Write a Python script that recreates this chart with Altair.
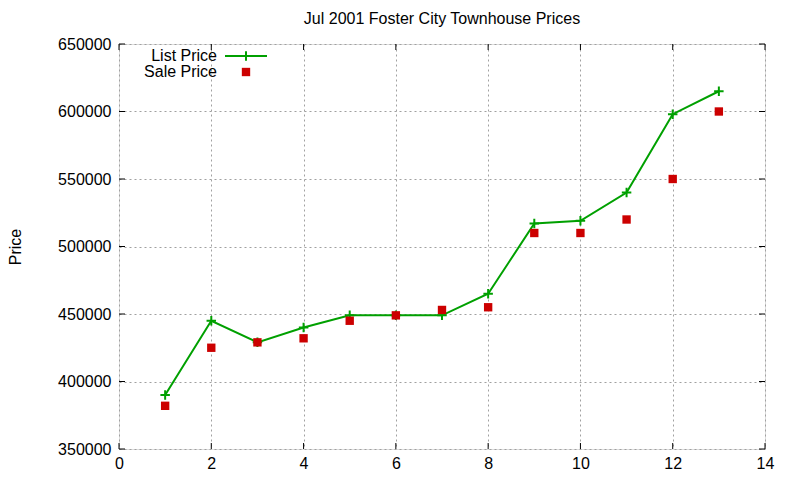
import altair as alt
import pandas as pd

# Data
house = list(range(1, 14))
list_price = [390000, 445000, 429000, 440000, 449000, 449000, 449000,
              465000, 517000, 519000, 540000, 598000, 615000]
sale_price = [382000, 425000, 429000, 432000, 445000, 449000, 453000,
              455000, 510000, 510000, 520000, 550000, 600000]
x_ticks = [0, 2, 4, 6, 8, 10, 12, 14]
y_ticks = [350000, 400000, 450000, 500000, 550000, 600000, 650000]

W, H = 646, 405
FONT = "Liberation Sans"
FS = 16
GREEN = "#00a000"
RED = "#cc0000"
PLUS = "M-1,0L1,0M0,-1L0,1"
TICK = 6

df = pd.DataFrame({"x": house, "list": list_price, "sale": sale_price})
dfx = pd.DataFrame({"t": x_ticks})
dfy = pd.DataFrame({"t": y_ticks})

xs = alt.Scale(domain=[0, 14], nice=False, zero=False)
ys = alt.Scale(domain=[350000, 650000], nice=False, zero=False)

xaxis = alt.Axis(values=x_ticks, grid=True, gridDash=[2, 3], gridColor="#a0a0a0",
                 ticks=False, domain=False, labelPadding=6, labelFontSize=FS,
                 labelFont=FONT, labelColor="#000", title=None, labelFlush=False)
yaxis = alt.Axis(values=y_ticks, grid=True, gridDash=[2, 3], gridColor="#a0a0a0",
                 ticks=False, domain=False, labelPadding=8, labelFontSize=FS,
                 labelFont=FONT, labelColor="#000", title="Price", titleFont=FONT,
                 titleFontSize=FS, titleFontWeight="normal", titleColor="#000",
                 titlePadding=34, format="d", labelFlush=False)

base = alt.Chart(df)
line = base.mark_line(color=GREEN, strokeWidth=2).encode(
    x=alt.X("x:Q", scale=xs, axis=xaxis),
    y=alt.Y("list:Q", scale=ys, axis=yaxis),
)
plus = base.mark_point(shape=PLUS, filled=False, color=GREEN, strokeWidth=2, size=90, opacity=1).encode(
    x=alt.X("x:Q", scale=xs), y=alt.Y("list:Q", scale=ys))
sq = base.mark_square(color=RED, size=70, opacity=1).encode(
    x=alt.X("x:Q", scale=xs), y=alt.Y("sale:Q", scale=ys))

# inward ticks
xt_b = alt.Chart(dfx).mark_rule(color="black", strokeWidth=1).encode(
    x=alt.X("t:Q", scale=xs), y=alt.value(H), y2=alt.value(H - TICK))
xt_t = alt.Chart(dfx).mark_rule(color="black", strokeWidth=1).encode(
    x=alt.X("t:Q", scale=xs), y=alt.value(0), y2=alt.value(TICK))
yt_l = alt.Chart(dfy).mark_rule(color="black", strokeWidth=1).encode(
    y=alt.Y("t:Q", scale=ys), x=alt.value(0), x2=alt.value(TICK))
yt_r = alt.Chart(dfy).mark_rule(color="black", strokeWidth=1).encode(
    y=alt.Y("t:Q", scale=ys), x=alt.value(W), x2=alt.value(W - TICK))

# legend
leg = pd.DataFrame({"label": ["List Price", "Sale Price"], "yy": [12, 28]})
leg_text = alt.Chart(leg).mark_text(align="right", baseline="middle", font=FONT,
                                    fontSize=FS, color="black").encode(
    text="label:N", x=alt.value(98), y=alt.Y("yy:Q", scale=None))
leg_line = alt.Chart(leg.iloc[:1]).mark_rule(color=GREEN, strokeWidth=2).encode(
    x=alt.value(106), x2=alt.value(148), y=alt.Y("yy:Q", scale=None))
leg_plus = alt.Chart(leg.iloc[:1]).mark_point(shape=PLUS, filled=False, color=GREEN,
                                              strokeWidth=2, size=90, opacity=1).encode(
    x=alt.value(127), y=alt.Y("yy:Q", scale=None))
leg_sq = alt.Chart(leg.iloc[1:]).mark_square(color=RED, size=70, opacity=1).encode(
    x=alt.value(127), y=alt.Y("yy:Q", scale=None))

chart = alt.layer(line, plus, sq, xt_b, xt_t, yt_l, yt_r,
                  leg_text, leg_line, leg_plus, leg_sq).properties(
    width=W, height=H,
    title=alt.Title("Jul 2001 Foster City Townhouse Prices", font=FONT, fontSize=FS,
                    fontWeight="normal", color="black", anchor="middle", offset=9),
    padding={"left": 111, "top": 36, "right": 25, "bottom": 28},
    autosize=alt.AutoSizeParams(type="none"),
).configure_view(stroke="black", strokeWidth=1).configure(background="white")

chart.save("out.html", embed_options={"renderer": "svg", "actions": False})
